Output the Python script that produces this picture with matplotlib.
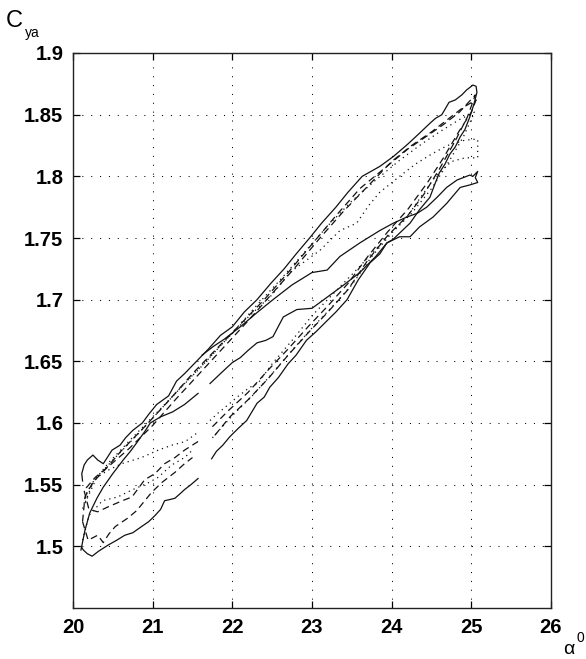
import matplotlib
matplotlib.use("Agg")
import matplotlib.pyplot as plt

plt.rcParams['font.family'] = ['Liberation Sans', 'DejaVu Sans']

# ---------------- data (alpha in degrees, C_ya) ----------------
# outer solid loop: lowest branch (left part)
solid_outer_low_a = [20.10, 20.13, 20.18, 20.24, 20.32, 20.44, 20.55, 20.65, 20.75, 20.86, 20.95, 21.03,
                     21.10, 21.15, 21.22, 21.28, 21.35, 21.40, 21.48, 21.57]
solid_outer_low_c = [1.500, 1.497, 1.494, 1.492, 1.496, 1.501, 1.505, 1.509, 1.511, 1.516, 1.520, 1.525,
                     1.530, 1.537, 1.538, 1.539, 1.543, 1.546, 1.550, 1.555]
# outer solid loop: rising lower branch -> tip -> upper branch back to 20
solid_outer_a = [21.74, 21.80, 21.88, 21.97, 22.08, 22.18, 22.31, 22.40, 22.47, 22.58, 22.70, 22.80, 22.93,
                 23.05, 23.19, 23.30, 23.44, 23.58, 23.73, 23.85, 23.94, 24.02, 24.10, 24.23, 24.35, 24.48,
                 24.55, 24.60, 24.67, 24.73, 24.80, 24.86, 24.92, 24.98, 25.03, 25.07, 25.06, 25.02, 24.94,
                 24.88, 24.80, 24.72, 24.63, 24.55, 24.48, 24.35, 24.20, 24.02, 23.85, 23.63, 23.45, 23.30,
                 23.12, 22.97, 22.80, 22.65, 22.48, 22.31, 22.15, 22.00, 21.85, 21.70, 21.55, 21.40, 21.30,
                 21.20, 21.05, 20.95, 20.87, 20.75, 20.66, 20.59, 20.49, 20.43, 20.38, 20.31, 20.25, 20.18,
                 20.14, 20.11, 20.12]
solid_outer_c = [1.571, 1.577, 1.582, 1.589, 1.596, 1.602, 1.616, 1.621, 1.629, 1.637, 1.648, 1.655, 1.667,
                 1.674, 1.683, 1.690, 1.700, 1.716, 1.730, 1.737, 1.746, 1.749, 1.754, 1.762, 1.773, 1.783,
                 1.795, 1.803, 1.810, 1.818, 1.824, 1.832, 1.838, 1.848, 1.858, 1.868, 1.873, 1.874, 1.870,
                 1.866, 1.862, 1.860, 1.850, 1.847, 1.843, 1.835, 1.826, 1.816, 1.808, 1.800, 1.787, 1.775,
                 1.762, 1.750, 1.737, 1.725, 1.713, 1.700, 1.690, 1.678, 1.671, 1.660, 1.650, 1.640, 1.634,
                 1.622, 1.615, 1.607, 1.600, 1.594, 1.588, 1.582, 1.578, 1.572, 1.567, 1.570, 1.574, 1.570,
                 1.566, 1.559, 1.553]

# middle solid loop: lower branch, left part
solid_mid_low_a = [20.10, 20.15, 20.21, 20.30, 20.38, 20.50, 20.63, 20.72, 20.80, 20.90, 20.97, 21.10,
                   21.25, 21.40, 21.57]
solid_mid_low_c = [1.497, 1.513, 1.527, 1.539, 1.548, 1.559, 1.570, 1.577, 1.584, 1.593, 1.600, 1.605,
                   1.609, 1.615, 1.624]
# middle solid loop: lower branch right part -> tip -> upper branch
solid_mid_a = [21.72, 21.85, 22.00, 22.10, 22.20, 22.31, 22.42, 22.51, 22.64, 22.81, 23.00, 23.19, 23.40,
               23.60, 23.80, 23.94, 24.10, 24.23, 24.35, 24.52, 24.69, 24.86, 24.98, 25.08, 25.05, 25.08,
               25.02, 24.98, 24.82, 24.69, 24.57, 24.44, 24.32, 24.19, 24.02, 23.85, 23.60, 23.35, 23.19,
               23.00, 22.75, 22.51, 22.30, 22.10, 21.90, 21.76, 21.62]
solid_mid_c = [1.632, 1.640, 1.649, 1.653, 1.659, 1.665, 1.667, 1.670, 1.686, 1.692, 1.693, 1.702, 1.712,
               1.722, 1.735, 1.746, 1.751, 1.751, 1.759, 1.767, 1.778, 1.791, 1.793, 1.795, 1.799, 1.804,
               1.800, 1.801, 1.797, 1.791, 1.783, 1.775, 1.770, 1.767, 1.762, 1.756, 1.746, 1.735, 1.724,
               1.722, 1.712, 1.700, 1.689, 1.678, 1.668, 1.662, 1.655]

# dashed loop 1
dash1_low_a = [20.12, 20.19, 20.31, 20.38, 20.45, 20.53, 20.69, 20.80, 20.99, 21.12, 21.28, 21.40, 21.50]
dash1_low_c = [1.520, 1.505, 1.509, 1.503, 1.510, 1.516, 1.523, 1.529, 1.544, 1.552, 1.560, 1.567, 1.572]
dash1_a = [21.78, 21.97, 22.20, 22.45, 22.70, 22.95, 23.20, 23.45, 23.70, 23.95, 24.20, 24.40, 24.60,
           24.80, 24.95, 25.05, 24.85, 24.65, 24.45, 24.20, 23.90, 23.60, 23.30, 23.00, 22.70, 22.40,
           22.10, 21.80, 21.50, 21.20, 20.90, 20.60, 20.40, 20.25, 20.15, 20.12]
dash1_c = [1.590, 1.605, 1.619, 1.636, 1.655, 1.673, 1.690, 1.708, 1.732, 1.752, 1.768, 1.785, 1.806,
           1.829, 1.848, 1.866, 1.852, 1.842, 1.833, 1.822, 1.806, 1.790, 1.768, 1.745, 1.722, 1.700,
           1.680, 1.660, 1.640, 1.618, 1.597, 1.577, 1.562, 1.552, 1.540, 1.520]

# dashed loop 2
dash2_low_a = [20.14, 20.20, 20.31, 20.44, 20.62, 20.74, 20.90, 21.03, 21.15, 21.28, 21.40, 21.57]
dash2_low_c = [1.545, 1.530, 1.528, 1.532, 1.537, 1.540, 1.554, 1.559, 1.567, 1.572, 1.578, 1.585]
dash2_a = [21.75, 21.95, 22.20, 22.45, 22.70, 22.95, 23.20, 23.45, 23.70, 23.95, 24.20, 24.45, 24.65,
           24.85, 25.00, 25.06, 24.90, 24.70, 24.50, 24.25, 24.00, 23.70, 23.40, 23.10, 22.80, 22.50,
           22.20, 21.90, 21.60, 21.30, 21.00, 20.70, 20.45, 20.28, 20.16]
dash2_c = [1.597, 1.610, 1.625, 1.643, 1.660, 1.678, 1.695, 1.713, 1.735, 1.755, 1.773, 1.795, 1.815,
           1.837, 1.852, 1.862, 1.856, 1.846, 1.836, 1.825, 1.812, 1.792, 1.772, 1.750, 1.727, 1.705,
           1.683, 1.662, 1.641, 1.620, 1.598, 1.579, 1.565, 1.556, 1.547]

# dotted loop 1
dot1_low_a = [20.15, 20.30, 20.45, 20.61, 20.86, 21.07, 21.24, 21.41, 21.56]
dot1_low_c = [1.535, 1.556, 1.562, 1.567, 1.572, 1.578, 1.582, 1.585, 1.592]
dot1_a = [21.72, 21.82, 21.97, 22.06, 22.22, 22.32, 22.50, 22.75, 23.00, 23.30, 23.60, 23.90, 24.20,
          24.55, 24.75, 24.92, 25.08, 25.08, 25.02, 24.90, 24.70, 24.50, 24.30, 24.10, 23.85, 23.72,
          23.56, 23.35, 23.10, 22.72, 22.50, 22.20, 21.90, 21.60, 21.30, 21.00, 20.70, 20.45, 20.25,
          20.15]
dot1_c = [1.602, 1.608, 1.616, 1.621, 1.629, 1.632, 1.648, 1.667, 1.687, 1.707, 1.727, 1.748, 1.768,
          1.800, 1.812, 1.815, 1.815, 1.830, 1.830, 1.829, 1.825, 1.818, 1.810, 1.800, 1.787, 1.777,
          1.762, 1.756, 1.740, 1.722, 1.704, 1.686, 1.666, 1.645, 1.625, 1.605, 1.585, 1.568, 1.552,
          1.535]

# dotted loop 2
dot2_low_a = [20.12, 20.20, 20.37, 20.56, 20.75, 20.93, 21.07, 21.24, 21.40, 21.50]
dot2_low_c = [1.505, 1.525, 1.537, 1.540, 1.546, 1.551, 1.556, 1.566, 1.572, 1.578]
dot2_a = [21.75, 22.00, 22.25, 22.50, 22.75, 23.00, 23.25, 23.50, 23.75, 24.00, 24.25, 24.50, 24.70,
          24.90, 25.04, 24.85, 24.60, 24.35, 24.10, 23.80, 23.50, 23.20, 22.90, 22.60, 22.30, 22.00,
          21.70, 21.40, 21.10, 20.80, 20.50, 20.30, 20.18, 20.12]
dot2_c = [1.588, 1.606, 1.622, 1.640, 1.659, 1.677, 1.694, 1.712, 1.735, 1.754, 1.770, 1.790, 1.810,
          1.832, 1.852, 1.846, 1.836, 1.825, 1.813, 1.797, 1.780, 1.760, 1.738, 1.716, 1.695, 1.673,
          1.652, 1.632, 1.611, 1.590, 1.570, 1.556, 1.545, 1.530]

x_ticks = [20, 21, 22, 23, 24, 25, 26]
y_ticks = [1.5, 1.55, 1.6, 1.65, 1.7, 1.75, 1.8, 1.85, 1.9]
y_tick_labels = ["1.5", "1.55", "1.6", "1.65", "1.7", "1.75", "1.8", "1.85", "1.9"]

# ---------------- figure ----------------
W, H = 586, 659
fig = plt.figure(figsize=(W / 100, H / 100), dpi=100)
ax = fig.add_axes([73 / W, 1 - 608 / H, (551 - 73) / W, (608 - 53) / H])

lw = 0.9
col = '#111111'
solid = dict(color=col, lw=lw, solid_joinstyle='round')
dashed = dict(color=col, lw=lw, linestyle=(0, (5.5, 3.5)))
dotted = dict(color=col, lw=lw, linestyle=(0, (1, 3.2)))

ax.plot(solid_outer_low_a, solid_outer_low_c, **solid)
ax.plot(solid_outer_a, solid_outer_c, **solid)
ax.plot(solid_mid_low_a, solid_mid_low_c, **solid)
ax.plot(solid_mid_a, solid_mid_c, **solid)
ax.plot(dash1_low_a, dash1_low_c, **dashed)
ax.plot(dash1_a, dash1_c, **dashed)
ax.plot(dash2_low_a, dash2_low_c, **dashed)
ax.plot(dash2_a, dash2_c, **dashed)
ax.plot(dot1_low_a, dot1_low_c, **dotted)
ax.plot(dot1_a, dot1_c, **dotted)
ax.plot(dot2_low_a, dot2_low_c, **dotted)
ax.plot(dot2_a, dot2_c, **dotted)

ax.set_xlim(20, 26)
ax.set_ylim(1.45, 1.9)
ax.set_xticks(x_ticks)
ax.set_yticks(y_ticks)
ax.set_yticklabels(y_tick_labels)
ax.grid(True, color='black', lw=0.75, linestyle=(0, (1, 7.5)))
ax.tick_params(direction='in', length=5, width=0.9, top=True, right=True,
               labelsize=14.5, pad=7, colors='black')
for lab in ax.get_xticklabels() + ax.get_yticklabels():
    lab.set_fontweight('bold')
for sp in ax.spines.values():
    sp.set_linewidth(1.0)
    sp.set_color('#222222')

# axis labels (MATLAB style)
fig.text(14 / W, 1 - 21 / H, "C", fontsize=17, ha='center', va='center')
fig.text(32 / W, 1 - 33 / H, "ya", fontsize=10, ha='center', va='center')
fig.text(569 / W, 1 - 650 / H, "α", fontsize=14, ha='center', va='center')
fig.text(580 / W, 1 - 638 / H, "0", fontsize=10, ha='center', va='center')

fig.savefig("out.png", dpi=100)
